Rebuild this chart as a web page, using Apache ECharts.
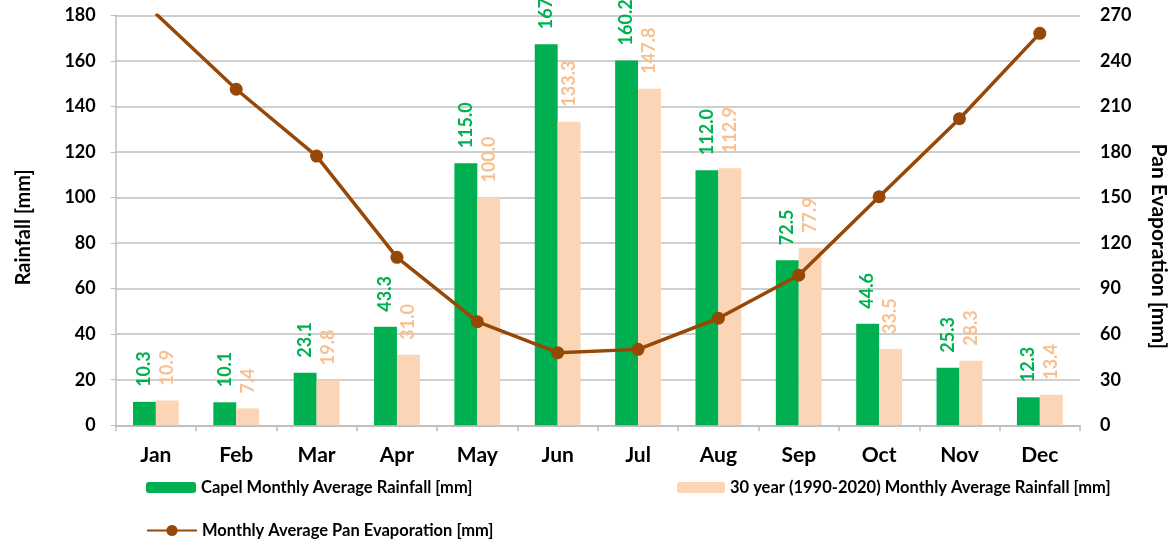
<!DOCTYPE html>
<html>
<head>
<meta charset="utf-8">
<script src="https://cdn.jsdelivr.net/npm/echarts@6/dist/echarts.min.js"></script>
<style>
  html, body { margin: 0; padding: 0; background: #ffffff; }
  #chart { width: 1173px; height: 545px; }
</style>
</head>
<body>
<div id="chart"></div>
<script>
// Monthly rainfall (left axis) and pan evaporation (right axis) for Capel
const months = ['Jan', 'Feb', 'Mar', 'Apr', 'May', 'Jun', 'Jul', 'Aug', 'Sep', 'Oct', 'Nov', 'Dec'];
const capelRainfall = [10.3, 10.1, 23.1, 43.3, 115.0, 167.3, 160.2, 112.0, 72.5, 44.6, 25.3, 12.3];
const longTermRainfall = [10.9, 7.4, 19.8, 31.0, 100.0, 133.3, 147.8, 112.9, 77.9, 33.5, 28.3, 13.4];
const panEvaporation = [271, 221.3, 177.3, 110.6, 68.2, 47.8, 50.0, 70.5, 98.8, 150.5, 201.9, 258.1];

const seriesNames = [
  'Capel Monthly Average Rainfall [mm]',
  '30 year (1990-2020) Monthly Average Rainfall [mm]',
  'Monthly Average Pan Evaporation [mm]'
];

const FONT = 'Lato';
const GREEN = '#00B050';
const PEACH = '#FBD5B5';
const PEACH_TEXT = '#F9C08F';
const BROWN = '#974706';
const GRID_GRAY = '#BFBFBF';

const chart = echarts.init(document.getElementById('chart'), null, { renderer: 'canvas' });

const barLabel = (color) => ({
  show: true,
  position: 'top',
  rotate: 90,
  align: 'left',
  verticalAlign: 'middle',
  distance: 15,
  color: color,
  fontFamily: FONT,
  fontWeight: 'bold',
  fontSize: 18,
  formatter: (p) => p.value.toFixed(1)
});

const legendText = { color: '#000', fontFamily: FONT, fontWeight: 'bold', fontSize: 16.5 };

chart.setOption({
  animation: false,
  backgroundColor: '#ffffff',
  textStyle: { fontFamily: FONT },
  grid: {
    left: 115.7, right: 93, top: 15.3, bottom: 119.7,
    containLabel: false,
    outerBoundsMode: 'none'
  },
  legend: [
    { data: [seriesNames[0]], left: 141, top: 474, itemWidth: 50, itemHeight: 11, itemGap: 0, textStyle: legendText, selectedMode: false },
    { data: [seriesNames[1]], left: 672, top: 474, itemWidth: 48, itemHeight: 11, itemGap: 0, textStyle: legendText, selectedMode: false },
    { data: [seriesNames[2]], left: 141, top: 517, itemWidth: 50, itemHeight: 14, itemGap: 0, textStyle: legendText, selectedMode: false }
  ],
  xAxis: {
    type: 'category',
    data: months,
    axisLine: { show: true, lineStyle: { color: GRID_GRAY, width: 2 } },
    axisTick: { show: true, length: 6, lineStyle: { color: GRID_GRAY, width: 1.5 } },
    axisLabel: { color: '#000', fontFamily: FONT, fontWeight: 'bold', fontSize: 21, margin: 19 }
  },
  yAxis: [
    {
      type: 'value',
      min: 0, max: 180, interval: 20,
      name: 'Rainfall [mm]',
      nameLocation: 'middle',
      nameRotate: 90,
      nameGap: 82,
      nameTextStyle: { color: '#000', fontFamily: FONT, fontWeight: 'bold', fontSize: 20, padding: [0, 14, 0, 0] },
      axisLine: { show: true, lineStyle: { color: GRID_GRAY, width: 1.5 } },
      axisTick: { show: true, length: 5, lineStyle: { color: GRID_GRAY } },
      axisLabel: { color: '#000', fontFamily: FONT, fontWeight: 'bold', fontSize: 18, margin: 20 },
      splitLine: { show: true, lineStyle: { color: GRID_GRAY, width: 1.5 } }
    },
    {
      type: 'value',
      min: 0, max: 270, interval: 30,
      name: 'Pan Evaporation [mm]',
      nameLocation: 'middle',
      nameRotate: -90,
      nameGap: 68,
      nameTextStyle: { color: '#000', fontFamily: FONT, fontWeight: 'bold', fontSize: 21, padding: [0, 0, 0, 52] },
      axisLine: { show: false },
      axisTick: { show: false },
      axisLabel: { color: '#000', fontFamily: FONT, fontWeight: 'bold', fontSize: 18, margin: 20 },
      splitLine: { show: false }
    }
  ],
  series: [
    {
      name: seriesNames[0],
      type: 'bar',
      data: capelRainfall,
      yAxisIndex: 0,
      barGap: '0%',
      barCategoryGap: '43%',
      itemStyle: { color: GREEN },
      label: barLabel(GREEN)
    },
    {
      name: seriesNames[1],
      type: 'bar',
      data: longTermRainfall,
      yAxisIndex: 0,
      barGap: '0%',
      barCategoryGap: '43%',
      itemStyle: { color: PEACH },
      label: barLabel(PEACH_TEXT)
    },
    {
      name: seriesNames[2],
      type: 'line',
      data: panEvaporation,
      yAxisIndex: 1,
      clip: true,
      symbol: 'circle',
      symbolSize: 13,
      lineStyle: { color: BROWN, width: 3.5 },
      itemStyle: { color: BROWN },
      z: 5
    }
  ]
});
</script>
</body>
</html>
